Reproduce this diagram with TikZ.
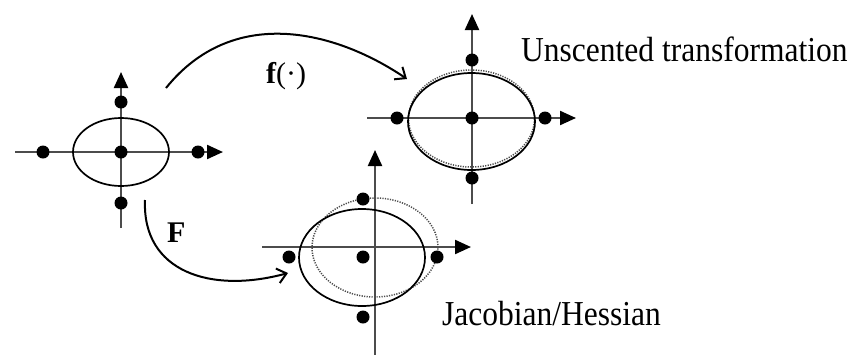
\documentclass[tikz,border=0pt]{standalone}
\usepackage{fontspec}
\setmainfont{Liberation Serif}
\usetikzlibrary{arrows.meta}
\tikzset{
  axis/.style={line width=2.2pt, draw=black!70, -{Triangle[length=16pt,width=14pt,color=black]}},
  sigma/.style={circle, fill=black, inner sep=0pt, minimum size=13pt},
  solidell/.style={line width=1.7pt, draw=black},
  dotell/.style={line width=1.5pt, draw=black!70, dash pattern=on 1.2pt off 1.3pt},
  maparrow/.style={line width=2pt, -{Straight Barb[length=9pt,width=15pt,line width=2pt]}},
  bigtext/.style={anchor=base west, inner sep=0pt, font=\fontsize{35}{40}\selectfont},
  labeltext/.style={anchor=base west, inner sep=0pt, font=\fontsize{30}{34}\selectfont},
}
\begin{document}
\begin{tikzpicture}[x=1pt,y=-1pt]
\useasboundingbox (0,0) rectangle (853,354);
\fill[white] (0,0) rectangle (853,354);

% ---------- left (input) distribution ----------
\coordinate (Lc) at (121,152);
\coordinate (Lxs) at (15,152);  \coordinate (Lxe) at (223,152);
\coordinate (Lys) at (121,228); \coordinate (Lye) at (121,72);
\draw[axis] (Lxs) -- (Lxe);
\draw[axis] (Lys) -- (Lye);
\draw[solidell] (Lc) ellipse [x radius=48pt, y radius=34pt];
\node[sigma] (L0) at (121,152) {};
\node[sigma] (L1) at (43,152) {};
\node[sigma] (L2) at (198,152) {};
\node[sigma] (L3) at (121,102) {};
\node[sigma] (L4) at (121,203) {};

% ---------- top right (unscented transformation) ----------
\coordinate (Uxs) at (367,118); \coordinate (Uxe) at (576,118);
\coordinate (Uys) at (472,204); \coordinate (Uye) at (472,14);
\draw[axis] (Uxs) -- (Uxe);
\draw[axis] (Uys) -- (Uye);
\draw[dotell] (471.5,118.5) ellipse [x radius=63pt, y radius=48.5pt];
\draw[solidell] (471.5,121.5) ellipse [x radius=63.5pt, y radius=48.5pt];
\node[sigma] (U0) at (472,118) {};
\node[sigma] (U1) at (397,118) {};
\node[sigma] (U2) at (545,118) {};
\node[sigma] (U3) at (472,60) {};
\node[sigma] (U4) at (472,178) {};
\node[bigtext] (ut) at (521,61) {\scalebox{0.9}[1]{Unscented transformation}};

% ---------- bottom (Jacobian/Hessian) ----------
\coordinate (Jxs) at (262,247); \coordinate (Jxe) at (471,247);
\coordinate (Jys) at (375,356); \coordinate (Jye) at (375,150);
\draw[axis] (Jxs) -- (Jxe);
\draw[axis] (Jys) -- (Jye);
\draw[dotell] (375,247.5) ellipse [x radius=63pt, y radius=49.5pt];
\draw[solidell] (362,257.5) ellipse [x radius=63pt, y radius=48.5pt];
\node[sigma] (J0) at (363,257) {};
\node[sigma] (J1) at (289,257) {};
\node[sigma] (J2) at (437,257) {};
\node[sigma] (J3) at (363,199) {};
\node[sigma] (J4) at (363,317) {};
\node[bigtext] (jt) at (442,325) {\scalebox{0.9}[1]{Jacobian/Hessian}};

% ---------- mapping arrows ----------
\coordinate (fs) at (166,88);
\coordinate (fe) at (407,79);
\draw[maparrow] (fs) .. controls (232,6) and (333,29) .. (fe);
\node[labeltext] (flab) at (266,83) {{\bfseries f}(·)};

\coordinate (Fs) at (145,200);
\coordinate (Fe) at (288,273);
\draw[maparrow] (Fs) .. controls (142,272) and (211,294) .. (Fe);
\node[labeltext] (Flab) at (167,242) {\bfseries F};
\end{tikzpicture}
\end{document}
